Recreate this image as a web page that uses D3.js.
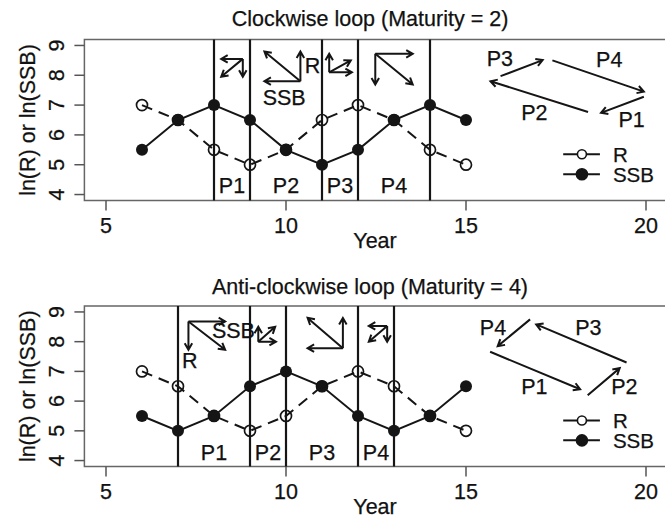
<!DOCTYPE html>
<html>
<head>
<meta charset="utf-8">
<script src="https://cdn.jsdelivr.net/npm/d3@7"></script>
<style>
  body { margin: 0; background: #fff; }
  text { font-family: "Liberation Sans", Arial, sans-serif; fill: #111; stroke: #111; stroke-width: 0.25px; }
</style>
</head>
<body>
<script>
// data
const years = [6, 7, 8, 9, 10, 11, 12, 13, 14, 15];
const rTop = [7, 6.5, 5.5, 5, 5.5, 6.5, 7, 6.5, 5.5, 5];
const ssbTop = [5.5, 6.5, 7, 6.5, 5.5, 5, 5.5, 6.5, 7, 6.5];
const rBottom = [7, 6.5, 5.5, 5, 5.5, 6.5, 7, 6.5, 5.5, 5];
const ssbBottom = [5.5, 5, 5.5, 6.5, 7, 6.5, 5.5, 5, 5.5, 6.5];
const xTicks = [5, 10, 15, 20];
const yTicks = [4, 5, 6, 7, 8, 9];

const phaseLinesTop = [8, 9, 11, 12, 14];
const phaseLinesBottom = [7, 9, 10, 12, 13];
const phaseLabelsTop = [["P1", 8.5], ["P2", 10], ["P3", 11.5], ["P4", 13]];
const phaseLabelsBottom = [["P1", 8], ["P2", 9.5], ["P3", 11], ["P4", 12.5]];

// direction glyphs: corner, end of horizontal (SSB), end of vertical (R), end of diagonal
const glyphsTop = [
  { c: [8.8, 8.55], hx: 8.2, vy: 7.95, d: [8.2, 7.95] },
  { c: [10.4, 7.8], hx: 9.4, vy: 8.8, d: [9.4, 8.8] },
  { c: [11.2, 8.1], hx: 11.83, vy: 8.72, d: [11.8, 8.5] },
  { c: [12.48, 8.72], hx: 13.52, vy: 7.69, d: [13.52, 7.69] }
];
const glyphsBottom = [
  { c: [7.29, 8.68], hx: 8.31, vy: 7.73, d: [8.31, 7.73] },
  { c: [9.23, 8.0], hx: 9.72, vy: 8.5, d: [9.7, 8.5] },
  { c: [11.58, 7.78], hx: 10.6, vy: 8.8, d: [10.6, 8.8] },
  { c: [12.81, 8.53], hx: 12.3, vy: 8.0, d: [12.3, 8.0] }
];
const glyphTextTop = [["R", 10.74, 8.32], ["SSB", 9.95, 7.24]];
const glyphTextBottom = [["R", 7.33, 7.34], ["SSB", 8.54, 8.35]];

// loop diagrams on the right
const loopTop = [
  [[15.96, 7.97], [17.13, 8.51]],
  [[17.4, 8.5], [19.94, 7.45]],
  [[19.94, 7.28], [18.75, 6.74]],
  [[18.39, 6.77], [15.68, 7.8]]
];
const loopTextTop = [["P3", 15.94, 8.53], ["P4", 18.98, 8.51], ["P2", 16.9, 6.75], ["P1", 19.6, 6.49]];
const loopBottom = [
  [[16.78, 8.75], [15.88, 7.85]],
  [[19.46, 7.3], [16.95, 8.58]],
  [[15.67, 7.66], [18.17, 6.4]],
  [[18.38, 6.2], [19.27, 7.11]]
];
const loopTextBottom = [["P4", 15.75, 8.46], ["P3", 18.4, 8.45], ["P1", 16.9, 6.47], ["P2", 19.4, 6.47]];

const width = 665, height = 519;
const fs = 21.5;
const ink = "#151515";

const svg = d3.select("body").append("svg")
  .attr("width", width).attr("height", height);

const x = d3.scaleLinear().domain([4.4, 20.6]).range([84.4, 667.6]);

function arrow(g, x0, y0, x1, y1) {
  const len = 7.5, ang = Math.PI / 6;
  const a = Math.atan2(y1 - y0, x1 - x0);
  g.append("path")
    .attr("d", `M${x0},${y0}L${x1},${y1}` +
      `M${x1 - len * Math.cos(a - ang)},${y1 - len * Math.sin(a - ang)}L${x1},${y1}` +
      `L${x1 - len * Math.cos(a + ang)},${y1 - len * Math.sin(a + ang)}`)
    .attr("fill", "none").attr("stroke", ink).attr("stroke-width", 2);
}

function panel(opt) {
  const y = d3.scaleLinear().domain([3.8, 9.2]).range(opt.yRange);
  const g = svg.append("g");
  const [y0, y1] = opt.yRange;

  // title
  g.append("text")
    .attr("x", 370).attr("y", opt.titleY)
    .attr("text-anchor", "middle").attr("font-size", fs)
    .text(opt.title);

  // box
  g.append("rect")
    .attr("x", x.range()[0]).attr("y", y1)
    .attr("width", x.range()[1] - x.range()[0]).attr("height", y0 - y1)
    .attr("fill", "none").attr("stroke", "#666").attr("stroke-width", 1.5);

  // x axis
  const xa = g.append("g");
  xa.selectAll("line").data(xTicks).enter().append("line")
    .attr("x1", d => x(d)).attr("x2", d => x(d))
    .attr("y1", y0).attr("y2", y0 + 10)
    .attr("stroke", "#555").attr("stroke-width", 1.5);
  xa.selectAll("text").data(xTicks).enter().append("text")
    .attr("x", d => x(d)).attr("y", y0 + 32)
    .attr("text-anchor", "middle").attr("font-size", fs)
    .text(d => d);
  g.append("text")
    .attr("x", 375).attr("y", y0 + 47.5)
    .attr("text-anchor", "middle").attr("font-size", fs)
    .text("Year");

  // y axis
  const ya = g.append("g");
  ya.selectAll("line").data(yTicks).enter().append("line")
    .attr("x1", x.range()[0] - 10).attr("x2", x.range()[0])
    .attr("y1", d => y(d)).attr("y2", d => y(d))
    .attr("stroke", "#555").attr("stroke-width", 1.5);
  ya.selectAll("text").data(yTicks).enter().append("text")
    .attr("transform", d => `translate(64,${y(d)}) rotate(-90)`)
    .attr("text-anchor", "middle").attr("font-size", fs)
    .text(d => d);
  g.append("text")
    .attr("transform", `translate(35,${(y0 + y1) / 2}) rotate(-90)`)
    .attr("text-anchor", "middle").attr("font-size", fs)
    .text("ln(R) or ln(SSB)");

  // phase boundaries
  g.selectAll(".vl").data(opt.lines).enter().append("line")
    .attr("x1", d => x(d)).attr("x2", d => x(d))
    .attr("y1", y1).attr("y2", y0)
    .attr("stroke", ink).attr("stroke-width", 2.2);
  g.selectAll(".pl").data(opt.labels).enter().append("text")
    .attr("x", d => x(d[1])).attr("y", y(4.27))
    .attr("text-anchor", "middle").attr("dominant-baseline", "central")
    .attr("font-size", fs).text(d => d[0]);

  // series
  const line = d3.line().x((d, i) => x(years[i])).y(d => y(d));
  g.append("path").datum(opt.r).attr("d", line)
    .attr("fill", "none").attr("stroke", ink).attr("stroke-width", 2)
    .attr("stroke-dasharray", "11,7");
  g.append("path").datum(opt.ssb).attr("d", line)
    .attr("fill", "none").attr("stroke", ink).attr("stroke-width", 2);
  g.selectAll(".rp").data(opt.r).enter().append("circle")
    .attr("cx", (d, i) => x(years[i])).attr("cy", d => y(d)).attr("r", 5.5)
    .attr("fill", "none").attr("stroke", ink).attr("stroke-width", 1.7);
  g.selectAll(".sp").data(opt.ssb).enter().append("circle")
    .attr("cx", (d, i) => x(years[i])).attr("cy", d => y(d)).attr("r", 6)
    .attr("fill", ink);

  // direction glyphs
  opt.glyphs.forEach(d => {
    const cx = x(d.c[0]), cy = y(d.c[1]);
    arrow(g, cx, cy, x(d.hx), cy);
    arrow(g, cx, cy, cx, y(d.vy));
    arrow(g, cx, cy, x(d.d[0]), y(d.d[1]));
  });
  g.selectAll(".gt").data(opt.glyphText).enter().append("text")
    .attr("x", d => x(d[1])).attr("y", d => y(d[2]))
    .attr("text-anchor", "middle").attr("dominant-baseline", "central")
    .attr("font-size", fs).text(d => d[0]);

  // loop
  opt.loop.forEach(d => arrow(g, x(d[0][0]), y(d[0][1]), x(d[1][0]), y(d[1][1])));
  g.selectAll(".lt").data(opt.loopText).enter().append("text")
    .attr("x", d => x(d[1])).attr("y", d => y(d[2]))
    .attr("text-anchor", "middle").attr("dominant-baseline", "central")
    .attr("font-size", fs).text(d => d[0]);

  // legend
  const lg = g.append("g");
  [["R", 5.35, false], ["SSB", 4.68, true]].forEach(d => {
    lg.append("line")
      .attr("x1", x(17.7)).attr("x2", x(18.72))
      .attr("y1", y(d[1])).attr("y2", y(d[1]))
      .attr("stroke", ink).attr("stroke-width", 2);
    lg.append("circle")
      .attr("cx", x(18.22)).attr("cy", y(d[1])).attr("r", d[2] ? 5.5 : 4.5)
      .attr("fill", d[2] ? ink : "#fff").attr("stroke", ink).attr("stroke-width", 1.6);
    lg.append("text")
      .attr("x", x(19.08)).attr("y", y(d[1]))
      .attr("dominant-baseline", "central").attr("font-size", fs - 1)
      .text(d[0]);
  });
}

panel({
  title: "Clockwise loop (Maturity = 2)", titleY: 26,
  yRange: [200.5, 39.5],
  r: rTop, ssb: ssbTop,
  lines: phaseLinesTop, labels: phaseLabelsTop,
  glyphs: glyphsTop, glyphText: glyphTextTop,
  loop: loopTop, loopText: loopTextTop
});

panel({
  title: "Anti-clockwise loop (Maturity = 4)", titleY: 294,
  yRange: [466.5, 306],
  r: rBottom, ssb: ssbBottom,
  lines: phaseLinesBottom, labels: phaseLabelsBottom,
  glyphs: glyphsBottom, glyphText: glyphTextBottom,
  loop: loopBottom, loopText: loopTextBottom
});
</script>
</body>
</html>
